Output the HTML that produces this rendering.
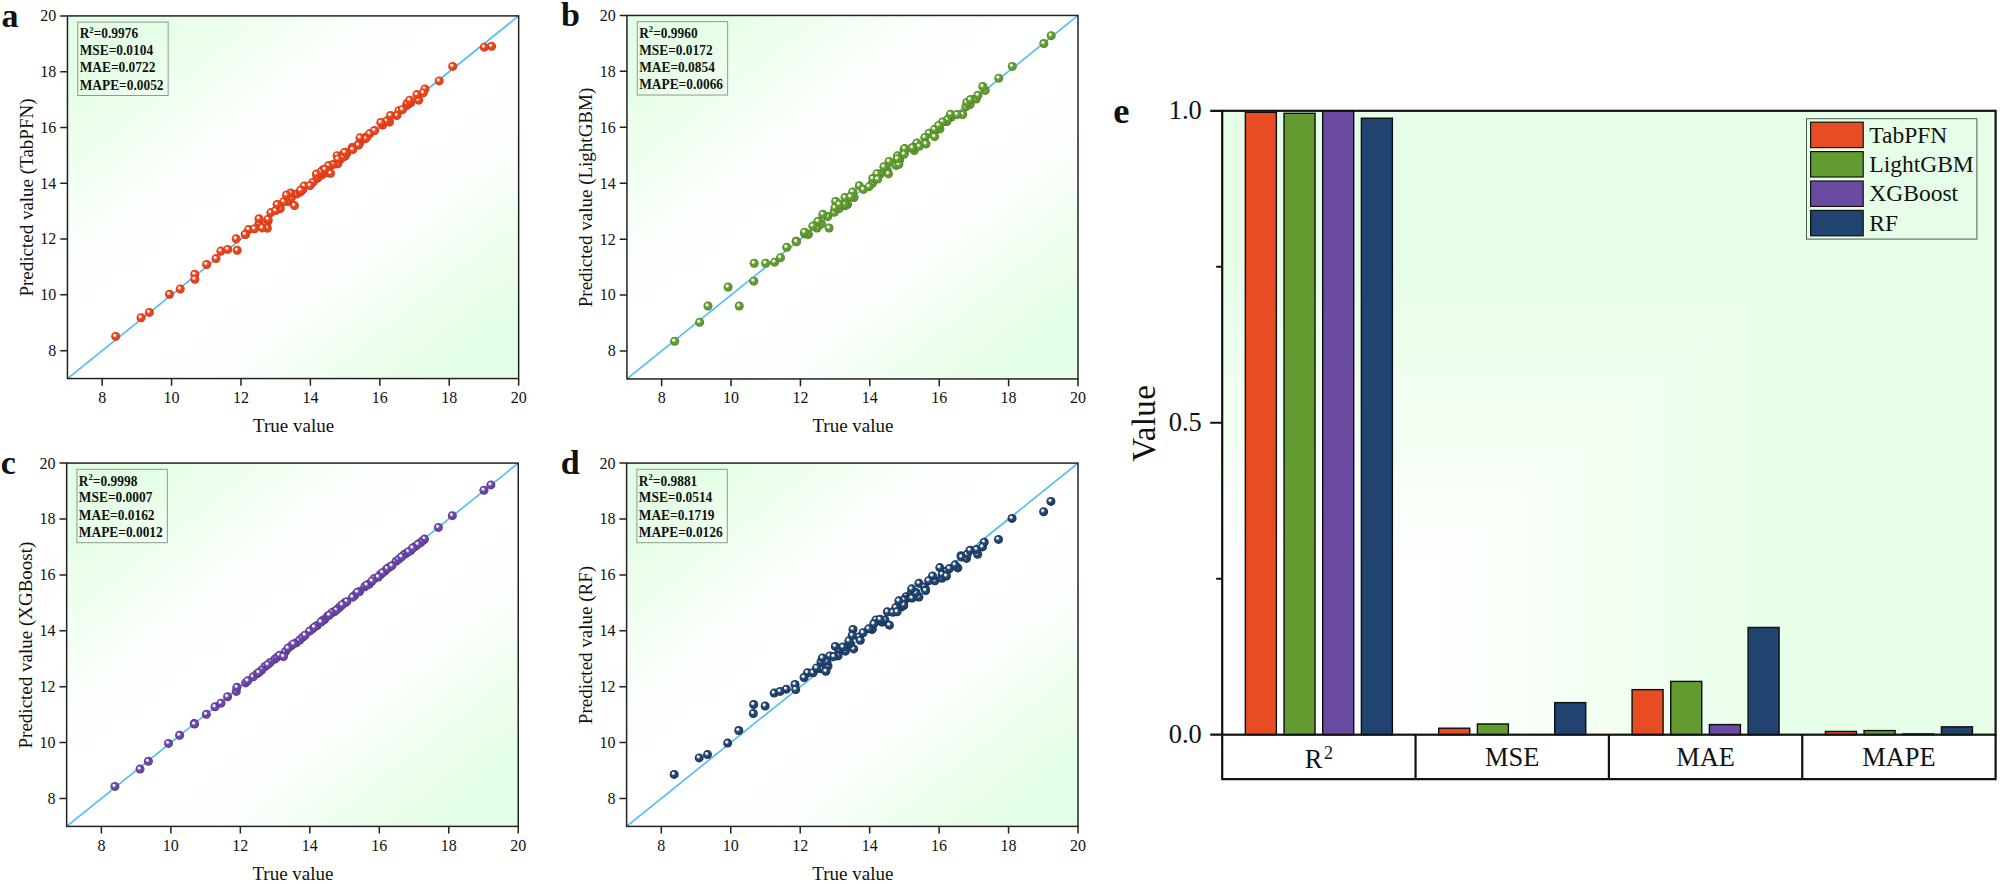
<!DOCTYPE html>
<html lang="en"><head><meta charset="utf-8"><title>Model comparison</title>
<style>html,body{margin:0;padding:0;background:#fff;}body{width:2000px;height:884px;overflow:hidden;}svg{display:block;}text{font-family:'Liberation Serif', serif;fill:#111;}.tk{font-size:16px;}.ax{font-size:19px;}.pl{font-size:34px;font-weight:bold;}.st{font-size:13.9px;font-weight:bold;}.tk2{font-size:26.4px;}.lg{font-size:23.5px;}</style></head><body>
<svg width="2000" height="884" viewBox="0 0 2000 884" role="img" aria-label="Predicted versus true value scatter plots for four models and a grouped bar chart of their metrics">
<defs>
<linearGradient id="bg" x1="0" y1="0" x2="1" y2="1"><stop offset="0" stop-color="#e5fee6"/><stop offset="0.10" stop-color="#e5fee6"/><stop offset="0.355" stop-color="#fdfffd"/><stop offset="0.5" stop-color="#ffffff"/><stop offset="0.645" stop-color="#fdfffd"/><stop offset="0.90" stop-color="#e5fee6"/><stop offset="1" stop-color="#e5fee6"/></linearGradient>
<linearGradient id="bgeh" x1="0" y1="0" x2="1" y2="0"><stop offset="0" stop-color="#ffffff"/><stop offset="0.26" stop-color="#ffffff"/><stop offset="0.50" stop-color="#f3fff3"/><stop offset="0.76" stop-color="#e6fee7"/><stop offset="1" stop-color="#e6fee7"/></linearGradient>
<linearGradient id="bgev" x1="0" y1="1" x2="0" y2="0"><stop offset="0" stop-color="#ffffff"/><stop offset="0.26" stop-color="#ffffff"/><stop offset="0.50" stop-color="#f3fff3"/><stop offset="0.76" stop-color="#e6fee7"/><stop offset="1" stop-color="#e6fee7"/></linearGradient>
<radialGradient id="ga" cx="0.5" cy="0.5" r="0.5" fx="0.34" fy="0.32"><stop offset="0" stop-color="#ffffff"/><stop offset="0.12" stop-color="#ffffff"/><stop offset="0.24" stop-color="#ffd9cc"/><stop offset="0.48" stop-color="#e8431c"/><stop offset="0.82" stop-color="#e8431c"/><stop offset="1" stop-color="#c9300f"/></radialGradient>
<radialGradient id="gb" cx="0.5" cy="0.5" r="0.5" fx="0.34" fy="0.32"><stop offset="0" stop-color="#ffffff"/><stop offset="0.12" stop-color="#ffffff"/><stop offset="0.24" stop-color="#e4f5d2"/><stop offset="0.48" stop-color="#5f9b2e"/><stop offset="0.82" stop-color="#5f9b2e"/><stop offset="1" stop-color="#457a1c"/></radialGradient>
<radialGradient id="gc" cx="0.5" cy="0.5" r="0.5" fx="0.34" fy="0.32"><stop offset="0" stop-color="#ffffff"/><stop offset="0.12" stop-color="#ffffff"/><stop offset="0.24" stop-color="#e4d8f7"/><stop offset="0.48" stop-color="#6a45a6"/><stop offset="0.82" stop-color="#6a45a6"/><stop offset="1" stop-color="#4b2c85"/></radialGradient>
<radialGradient id="gd" cx="0.5" cy="0.5" r="0.5" fx="0.34" fy="0.32"><stop offset="0" stop-color="#ffffff"/><stop offset="0.12" stop-color="#ffffff"/><stop offset="0.24" stop-color="#d5e2f2"/><stop offset="0.48" stop-color="#20426c"/><stop offset="0.82" stop-color="#20426c"/><stop offset="1" stop-color="#122a4c"/></radialGradient>
</defs>
<rect width="2000" height="884" fill="#fff"/>
<g id="panel-a">
<rect x="67.45" y="15.9" width="451.2" height="362.65" fill="url(#bg)"/>
<line x1="67.45" y1="378.55" x2="518.65" y2="15.9" stroke="#4cbcf5" stroke-width="1.6"/>
<g fill="url(#ga)">
<circle cx="408.63" cy="103.78" r="4.5"/>
<circle cx="359.69" cy="143.33" r="4.5"/>
<circle cx="317.35" cy="178.3" r="4.5"/>
<circle cx="346.85" cy="153.07" r="4.5"/>
<circle cx="296.52" cy="194.04" r="4.5"/>
<circle cx="321.16" cy="175.36" r="4.5"/>
<circle cx="322.9" cy="169.84" r="4.5"/>
<circle cx="406.54" cy="105.51" r="4.5"/>
<circle cx="345.11" cy="156.15" r="4.5"/>
<circle cx="340.25" cy="159.42" r="4.5"/>
<circle cx="302.77" cy="189.73" r="4.5"/>
<circle cx="279.86" cy="207.91" r="4.5"/>
<circle cx="268.06" cy="221.12" r="4.5"/>
<circle cx="299.99" cy="192.32" r="4.5"/>
<circle cx="398.91" cy="110.73" r="4.5"/>
<circle cx="324.98" cy="173.19" r="4.5"/>
<circle cx="410.71" cy="102.75" r="4.5"/>
<circle cx="366.98" cy="136.48" r="4.5"/>
<circle cx="259.04" cy="223.37" r="4.5"/>
<circle cx="329.49" cy="165.85" r="4.5"/>
<circle cx="389.54" cy="122.05" r="4.5"/>
<circle cx="288.19" cy="201.62" r="4.5"/>
<circle cx="169.49" cy="294.3" r="4.5"/>
<circle cx="237.17" cy="250.23" r="4.5"/>
<circle cx="248.62" cy="229.58" r="4.5"/>
<circle cx="382.6" cy="124.97" r="4.5"/>
<circle cx="216" cy="258.6" r="4.5"/>
<circle cx="418.69" cy="100.15" r="4.5"/>
<circle cx="396.83" cy="115.49" r="4.5"/>
<circle cx="407.24" cy="103.21" r="4.5"/>
<circle cx="294.44" cy="205.59" r="4.5"/>
<circle cx="304.16" cy="186.07" r="4.5"/>
<circle cx="337.82" cy="163.75" r="4.5"/>
<circle cx="291.31" cy="197.78" r="4.5"/>
<circle cx="317" cy="177.98" r="4.5"/>
<circle cx="220.86" cy="251.06" r="4.5"/>
<circle cx="259.04" cy="218.71" r="4.5"/>
<circle cx="424.94" cy="88.99" r="4.5"/>
<circle cx="180.25" cy="289" r="4.5"/>
<circle cx="267.37" cy="228.19" r="4.5"/>
<circle cx="369.75" cy="133.62" r="4.5"/>
<circle cx="312.83" cy="182.44" r="4.5"/>
<circle cx="320.82" cy="172.12" r="4.5"/>
<circle cx="423.2" cy="92.89" r="4.5"/>
<circle cx="310.06" cy="185.51" r="4.5"/>
<circle cx="358.3" cy="144.78" r="4.5"/>
<circle cx="149.36" cy="312.44" r="4.5"/>
<circle cx="227.8" cy="249.39" r="4.5"/>
<circle cx="268.06" cy="219.26" r="4.5"/>
<circle cx="374.61" cy="130.55" r="4.5"/>
<circle cx="332.96" cy="164.59" r="4.5"/>
<circle cx="316.3" cy="174.07" r="4.5"/>
<circle cx="365.59" cy="138.64" r="4.5"/>
<circle cx="330.53" cy="173.23" r="4.5"/>
<circle cx="344.07" cy="153.15" r="4.5"/>
<circle cx="358.3" cy="145.06" r="4.5"/>
<circle cx="206.63" cy="264.45" r="4.5"/>
<circle cx="352.05" cy="147.57" r="4.5"/>
<circle cx="491.58" cy="46.31" r="4.5"/>
<circle cx="328.45" cy="165.7" r="4.5"/>
<circle cx="115.69" cy="336.43" r="4.5"/>
<circle cx="337.13" cy="155.66" r="4.5"/>
<circle cx="245.5" cy="234.61" r="4.5"/>
<circle cx="270.84" cy="212.57" r="4.5"/>
<circle cx="416.96" cy="94.57" r="4.5"/>
<circle cx="409.67" cy="100.15" r="4.5"/>
<circle cx="402.38" cy="109.63" r="4.5"/>
<circle cx="194.83" cy="274.22" r="4.5"/>
<circle cx="245.15" cy="234.33" r="4.5"/>
<circle cx="194.83" cy="279.24" r="4.5"/>
<circle cx="280.21" cy="208.66" r="4.5"/>
<circle cx="439.17" cy="80.9" r="4.5"/>
<circle cx="386.41" cy="121.07" r="4.5"/>
<circle cx="352.75" cy="148.13" r="4.5"/>
<circle cx="275.7" cy="210.62" r="4.5"/>
<circle cx="324.98" cy="169.33" r="4.5"/>
<circle cx="342.68" cy="157.05" r="4.5"/>
<circle cx="236.13" cy="238.79" r="4.5"/>
<circle cx="254.52" cy="228.75" r="4.5"/>
<circle cx="360.04" cy="137.81" r="4.5"/>
<circle cx="262.16" cy="227.91" r="4.5"/>
<circle cx="484.29" cy="47.14" r="4.5"/>
<circle cx="390.58" cy="115.49" r="4.5"/>
<circle cx="141.03" cy="317.74" r="4.5"/>
<circle cx="352.75" cy="149.52" r="4.5"/>
<circle cx="344.76" cy="152.31" r="4.5"/>
<circle cx="380.86" cy="122.46" r="4.5"/>
<circle cx="283.68" cy="201.69" r="4.5"/>
<circle cx="290.62" cy="193.04" r="4.5"/>
<circle cx="452.71" cy="66.39" r="4.5"/>
<circle cx="300.69" cy="190.25" r="4.5"/>
<circle cx="277.08" cy="204.48" r="4.5"/>
<circle cx="286.46" cy="194.99" r="4.5"/>
<circle cx="337.82" cy="159.01" r="4.5"/>
</g>
<rect x="67.45" y="15.9" width="451.2" height="362.65" fill="none" stroke="#222" stroke-width="1.5"/>
<path d="M102.16 378.55v7.2M67.45 350.65h-7.2M171.57 378.55v7.2M67.45 294.86h-7.2M240.99 378.55v7.2M67.45 239.07h-7.2M310.4 378.55v7.2M67.45 183.28h-7.2M379.82 378.55v7.2M67.45 127.48h-7.2M449.23 378.55v7.2M67.45 71.69h-7.2M518.65 378.55v7.2M67.45 15.9h-7.2" stroke="#222" stroke-width="1.5" fill="none"/>
<text class="tk" x="102.16" y="402.65" text-anchor="middle">8</text>
<text class="tk" x="56.25" y="356.05" text-anchor="end">8</text>
<text class="tk" x="171.57" y="402.65" text-anchor="middle">10</text>
<text class="tk" x="56.25" y="300.26" text-anchor="end">10</text>
<text class="tk" x="240.99" y="402.65" text-anchor="middle">12</text>
<text class="tk" x="56.25" y="244.47" text-anchor="end">12</text>
<text class="tk" x="310.4" y="402.65" text-anchor="middle">14</text>
<text class="tk" x="56.25" y="188.68" text-anchor="end">14</text>
<text class="tk" x="379.82" y="402.65" text-anchor="middle">16</text>
<text class="tk" x="56.25" y="132.88" text-anchor="end">16</text>
<text class="tk" x="449.23" y="402.65" text-anchor="middle">18</text>
<text class="tk" x="56.25" y="77.09" text-anchor="end">18</text>
<text class="tk" x="518.65" y="402.65" text-anchor="middle">20</text>
<text class="tk" x="56.25" y="21.3" text-anchor="end">20</text>
<text class="ax" x="293.55" y="432.05" text-anchor="middle">True value</text>
<text class="ax" transform="translate(32.85 197.53) rotate(-90)" text-anchor="middle">Predicted value (TabPFN)</text>
<text class="pl" x="1.55" y="26.5">a</text>
<rect x="77.75" y="22.1" width="90.4" height="73.4" fill="none" stroke="#8b9c8b" stroke-width="1"/>
<g transform="translate(79.65 37.6) scale(0.965 1)">
<text class="st" x="0" y="0.8">R<tspan dy="-5.8" font-size="9px">2</tspan><tspan dy="5.8">=0.9976</tspan></text>
<text class="st" x="0" y="17.4">MSE=0.0104</text>
<text class="st" x="0" y="34.8">MAE=0.0722</text>
<text class="st" x="0" y="52.2">MAPE=0.0052</text>
</g>
</g>
<g id="panel-b">
<rect x="626.95" y="15.45" width="451.05" height="363.5" fill="url(#bg)"/>
<line x1="626.95" y1="378.95" x2="1078" y2="15.45" stroke="#4cbcf5" stroke-width="1.6"/>
<g fill="url(#gb)">
<circle cx="939.91" cy="128.92" r="4.5"/>
<circle cx="887.17" cy="170.13" r="4.5"/>
<circle cx="972.18" cy="99.44" r="4.5"/>
<circle cx="839.29" cy="208.62" r="4.5"/>
<circle cx="818.47" cy="225.86" r="4.5"/>
<circle cx="965.93" cy="106.84" r="4.5"/>
<circle cx="970.09" cy="104.55" r="4.5"/>
<circle cx="876.76" cy="177.79" r="4.5"/>
<circle cx="897.58" cy="162.5" r="4.5"/>
<circle cx="834.43" cy="211.23" r="4.5"/>
<circle cx="847.62" cy="204.41" r="4.5"/>
<circle cx="951.36" cy="117.05" r="4.5"/>
<circle cx="899.66" cy="160.07" r="4.5"/>
<circle cx="845.19" cy="205.79" r="4.5"/>
<circle cx="912.15" cy="148.09" r="4.5"/>
<circle cx="946.85" cy="121.53" r="4.5"/>
<circle cx="914.23" cy="150.55" r="4.5"/>
<circle cx="934.01" cy="132.71" r="4.5"/>
<circle cx="816.95" cy="228.01" r="4.5"/>
<circle cx="888.42" cy="173.77" r="4.5"/>
<circle cx="796.13" cy="241.16" r="4.5"/>
<circle cx="916.87" cy="144.41" r="4.5"/>
<circle cx="674.69" cy="341.26" r="4.5"/>
<circle cx="976.2" cy="99.11" r="4.5"/>
<circle cx="904.03" cy="149.44" r="4.5"/>
<circle cx="947.4" cy="119.8" r="4.5"/>
<circle cx="889.11" cy="161.47" r="4.5"/>
<circle cx="872.46" cy="183.28" r="4.5"/>
<circle cx="916.87" cy="143.01" r="4.5"/>
<circle cx="950.53" cy="114.21" r="4.5"/>
<circle cx="929.01" cy="133.22" r="4.5"/>
<circle cx="1012.29" cy="66.4" r="4.5"/>
<circle cx="808.27" cy="234.44" r="4.5"/>
<circle cx="739.23" cy="306.03" r="4.5"/>
<circle cx="859.28" cy="185.79" r="4.5"/>
<circle cx="880.44" cy="173.77" r="4.5"/>
<circle cx="962.67" cy="114.49" r="4.5"/>
<circle cx="924.85" cy="137.42" r="4.5"/>
<circle cx="977.94" cy="95.2" r="4.5"/>
<circle cx="904.03" cy="153.36" r="4.5"/>
<circle cx="913.05" cy="147.76" r="4.5"/>
<circle cx="765.6" cy="263.25" r="4.5"/>
<circle cx="728.12" cy="287.01" r="4.5"/>
<circle cx="708" cy="306.03" r="4.5"/>
<circle cx="863.44" cy="189.43" r="4.5"/>
<circle cx="966.83" cy="102.47" r="4.5"/>
<circle cx="957.12" cy="114.49" r="4.5"/>
<circle cx="970.3" cy="99.67" r="4.5"/>
<circle cx="904.73" cy="148.6" r="4.5"/>
<circle cx="834.29" cy="212.36" r="4.5"/>
<circle cx="872.81" cy="178.52" r="4.5"/>
<circle cx="844.36" cy="204.25" r="4.5"/>
<circle cx="985.22" cy="90.44" r="4.5"/>
<circle cx="868.99" cy="186.63" r="4.5"/>
<circle cx="896.05" cy="165.38" r="4.5"/>
<circle cx="699.67" cy="322.24" r="4.5"/>
<circle cx="827.7" cy="216.55" r="4.5"/>
<circle cx="753.8" cy="281.14" r="4.5"/>
<circle cx="821.46" cy="223.82" r="4.5"/>
<circle cx="822.84" cy="214.31" r="4.5"/>
<circle cx="804.8" cy="233.89" r="4.5"/>
<circle cx="835.68" cy="201.45" r="4.5"/>
<circle cx="829.09" cy="228.01" r="4.5"/>
<circle cx="934.57" cy="129.31" r="4.5"/>
<circle cx="852.68" cy="191.94" r="4.5"/>
<circle cx="942.55" cy="122.04" r="4.5"/>
<circle cx="898.83" cy="164.26" r="4.5"/>
<circle cx="925.89" cy="143.85" r="4.5"/>
<circle cx="904.03" cy="154.2" r="4.5"/>
<circle cx="883.91" cy="166.78" r="4.5"/>
<circle cx="786.76" cy="247.31" r="4.5"/>
<circle cx="854.07" cy="197.54" r="4.5"/>
<circle cx="834.99" cy="207.6" r="4.5"/>
<circle cx="754.15" cy="263.25" r="4.5"/>
<circle cx="897.44" cy="155.87" r="4.5"/>
<circle cx="796.48" cy="241.71" r="4.5"/>
<circle cx="845.05" cy="197.54" r="4.5"/>
<circle cx="774.62" cy="262.13" r="4.5"/>
<circle cx="925.89" cy="143.85" r="4.5"/>
<circle cx="807.93" cy="234.17" r="4.5"/>
<circle cx="938.73" cy="125.39" r="4.5"/>
<circle cx="897.44" cy="158.67" r="4.5"/>
<circle cx="817.99" cy="221.3" r="4.5"/>
<circle cx="919.3" cy="146.37" r="4.5"/>
<circle cx="876.97" cy="173.77" r="4.5"/>
<circle cx="839.15" cy="204.25" r="4.5"/>
<circle cx="934.57" cy="136.58" r="4.5"/>
<circle cx="1043.86" cy="43.47" r="4.5"/>
<circle cx="850.6" cy="196.7" r="4.5"/>
<circle cx="780.52" cy="257.65" r="4.5"/>
<circle cx="877.66" cy="179.08" r="4.5"/>
<circle cx="998.75" cy="78.14" r="4.5"/>
<circle cx="912.36" cy="147.76" r="4.5"/>
<circle cx="804.46" cy="232.21" r="4.5"/>
<circle cx="1051.15" cy="35.64" r="4.5"/>
<circle cx="812.78" cy="226.06" r="4.5"/>
<circle cx="982.79" cy="86.53" r="4.5"/>
</g>
<rect x="626.95" y="15.45" width="451.05" height="363.5" fill="none" stroke="#222" stroke-width="1.5"/>
<path d="M661.65 378.95v7.2M626.95 350.99h-7.2M731.04 378.95v7.2M626.95 295.07h-7.2M800.43 378.95v7.2M626.95 239.14h-7.2M869.82 378.95v7.2M626.95 183.22h-7.2M939.22 378.95v7.2M626.95 127.3h-7.2M1008.61 378.95v7.2M626.95 71.37h-7.2M1078 378.95v7.2M626.95 15.45h-7.2" stroke="#222" stroke-width="1.5" fill="none"/>
<text class="tk" x="661.65" y="403.05" text-anchor="middle">8</text>
<text class="tk" x="615.75" y="356.39" text-anchor="end">8</text>
<text class="tk" x="731.04" y="403.05" text-anchor="middle">10</text>
<text class="tk" x="615.75" y="300.47" text-anchor="end">10</text>
<text class="tk" x="800.43" y="403.05" text-anchor="middle">12</text>
<text class="tk" x="615.75" y="244.54" text-anchor="end">12</text>
<text class="tk" x="869.82" y="403.05" text-anchor="middle">14</text>
<text class="tk" x="615.75" y="188.62" text-anchor="end">14</text>
<text class="tk" x="939.22" y="403.05" text-anchor="middle">16</text>
<text class="tk" x="615.75" y="132.7" text-anchor="end">16</text>
<text class="tk" x="1008.61" y="403.05" text-anchor="middle">18</text>
<text class="tk" x="615.75" y="76.77" text-anchor="end">18</text>
<text class="tk" x="1078" y="403.05" text-anchor="middle">20</text>
<text class="tk" x="615.75" y="20.85" text-anchor="end">20</text>
<text class="ax" x="852.98" y="432.45" text-anchor="middle">True value</text>
<text class="ax" transform="translate(592.35 197.5) rotate(-90)" text-anchor="middle">Predicted value (LightGBM)</text>
<text class="pl" x="561.05" y="26.05">b</text>
<rect x="637.25" y="21.65" width="90.4" height="73.4" fill="none" stroke="#8b9c8b" stroke-width="1"/>
<g transform="translate(639.15 37.15) scale(0.965 1)">
<text class="st" x="0" y="0.8">R<tspan dy="-5.8" font-size="9px">2</tspan><tspan dy="5.8">=0.9960</tspan></text>
<text class="st" x="0" y="17.4">MSE=0.0172</text>
<text class="st" x="0" y="34.8">MAE=0.0854</text>
<text class="st" x="0" y="52.2">MAPE=0.0066</text>
</g>
</g>
<g id="panel-c">
<rect x="66.65" y="463.1" width="451.6" height="363.3" fill="url(#bg)"/>
<line x1="66.65" y1="826.4" x2="518.25" y2="463.1" stroke="#4cbcf5" stroke-width="1.6"/>
<g fill="url(#gc)">
<circle cx="296.34" cy="642.81" r="4.5"/>
<circle cx="406.46" cy="553.18" r="4.5"/>
<circle cx="404.03" cy="554.6" r="4.5"/>
<circle cx="384.92" cy="571.1" r="4.5"/>
<circle cx="274.8" cy="659.16" r="4.5"/>
<circle cx="265.08" cy="666.55" r="4.5"/>
<circle cx="312.67" cy="628.84" r="4.5"/>
<circle cx="309.54" cy="631.18" r="4.5"/>
<circle cx="396.04" cy="561.33" r="4.5"/>
<circle cx="245.62" cy="682.89" r="4.5"/>
<circle cx="398.82" cy="559.18" r="4.5"/>
<circle cx="380.41" cy="574.49" r="4.5"/>
<circle cx="354.7" cy="595.27" r="4.5"/>
<circle cx="389.44" cy="567.09" r="4.5"/>
<circle cx="423.14" cy="540.44" r="4.5"/>
<circle cx="334.55" cy="611.53" r="4.5"/>
<circle cx="382.49" cy="572.7" r="4.5"/>
<circle cx="359.56" cy="591.5" r="4.5"/>
<circle cx="327.61" cy="615.94" r="4.5"/>
<circle cx="424.53" cy="539.1" r="4.5"/>
<circle cx="317.18" cy="625.51" r="4.5"/>
<circle cx="338.03" cy="608.59" r="4.5"/>
<circle cx="324.83" cy="619.37" r="4.5"/>
<circle cx="352.62" cy="597.16" r="4.5"/>
<circle cx="420.7" cy="542.54" r="4.5"/>
<circle cx="344.97" cy="602.71" r="4.5"/>
<circle cx="299.81" cy="640.04" r="4.5"/>
<circle cx="285.57" cy="651.46" r="4.5"/>
<circle cx="291.13" cy="645.89" r="4.5"/>
<circle cx="261.6" cy="670.01" r="4.5"/>
<circle cx="253.27" cy="676.72" r="4.5"/>
<circle cx="401.6" cy="556.8" r="4.5"/>
<circle cx="340.11" cy="606.8" r="4.5"/>
<circle cx="322.74" cy="620.52" r="4.5"/>
<circle cx="293.56" cy="643.94" r="4.5"/>
<circle cx="270.29" cy="662.39" r="4.5"/>
<circle cx="387.36" cy="568.49" r="4.5"/>
<circle cx="288" cy="648.23" r="4.5"/>
<circle cx="410.63" cy="550.67" r="4.5"/>
<circle cx="336.29" cy="610.19" r="4.5"/>
<circle cx="267.86" cy="664.66" r="4.5"/>
<circle cx="357.48" cy="592.16" r="4.5"/>
<circle cx="277.23" cy="657.13" r="4.5"/>
<circle cx="408.55" cy="551.63" r="4.5"/>
<circle cx="331.77" cy="612.85" r="4.5"/>
<circle cx="247.71" cy="680.82" r="4.5"/>
<circle cx="314.4" cy="627.16" r="4.5"/>
<circle cx="415.15" cy="546.69" r="4.5"/>
<circle cx="321.01" cy="621.96" r="4.5"/>
<circle cx="374.5" cy="578.42" r="4.5"/>
<circle cx="302.59" cy="637.37" r="4.5"/>
<circle cx="329.34" cy="615.13" r="4.5"/>
<circle cx="391.87" cy="565.84" r="4.5"/>
<circle cx="369.29" cy="584.02" r="4.5"/>
<circle cx="346.71" cy="601.66" r="4.5"/>
<circle cx="364.78" cy="586.78" r="4.5"/>
<circle cx="305.03" cy="635.2" r="4.5"/>
<circle cx="417.93" cy="544.37" r="4.5"/>
<circle cx="378.32" cy="577.02" r="4.5"/>
<circle cx="257.09" cy="673.69" r="4.5"/>
<circle cx="258.82" cy="672.61" r="4.5"/>
<circle cx="366.86" cy="585.01" r="4.5"/>
<circle cx="372.07" cy="581.01" r="4.5"/>
<circle cx="412.71" cy="548.03" r="4.5"/>
<circle cx="342.2" cy="604.75" r="4.5"/>
<circle cx="279.67" cy="655.28" r="4.5"/>
<circle cx="114.9" cy="786.44" r="4.5"/>
<circle cx="140.02" cy="769.11" r="4.5"/>
<circle cx="148.35" cy="761.29" r="4.5"/>
<circle cx="168.5" cy="743.4" r="4.5"/>
<circle cx="179.62" cy="735.3" r="4.5"/>
<circle cx="194.21" cy="723.56" r="4.5"/>
<circle cx="194.56" cy="724.12" r="4.5"/>
<circle cx="206.37" cy="714.34" r="4.5"/>
<circle cx="215.05" cy="706.79" r="4.5"/>
<circle cx="220.96" cy="703.16" r="4.5"/>
<circle cx="227.56" cy="696.73" r="4.5"/>
<circle cx="236.24" cy="691.42" r="4.5"/>
<circle cx="236.94" cy="687.23" r="4.5"/>
<circle cx="438.42" cy="527.38" r="4.5"/>
<circle cx="452.32" cy="515.64" r="4.5"/>
<circle cx="483.93" cy="490.21" r="4.5"/>
<circle cx="490.88" cy="484.9" r="4.5"/>
<circle cx="283.49" cy="656.49" r="4.5"/>
</g>
<rect x="66.65" y="463.1" width="451.6" height="363.3" fill="none" stroke="#222" stroke-width="1.5"/>
<path d="M101.39 826.4v7.2M66.65 798.45h-7.2M170.87 826.4v7.2M66.65 742.56h-7.2M240.34 826.4v7.2M66.65 686.67h-7.2M309.82 826.4v7.2M66.65 630.78h-7.2M379.3 826.4v7.2M66.65 574.88h-7.2M448.77 826.4v7.2M66.65 518.99h-7.2M518.25 826.4v7.2M66.65 463.1h-7.2" stroke="#222" stroke-width="1.5" fill="none"/>
<text class="tk" x="101.39" y="850.5" text-anchor="middle">8</text>
<text class="tk" x="55.45" y="803.85" text-anchor="end">8</text>
<text class="tk" x="170.87" y="850.5" text-anchor="middle">10</text>
<text class="tk" x="55.45" y="747.96" text-anchor="end">10</text>
<text class="tk" x="240.34" y="850.5" text-anchor="middle">12</text>
<text class="tk" x="55.45" y="692.07" text-anchor="end">12</text>
<text class="tk" x="309.82" y="850.5" text-anchor="middle">14</text>
<text class="tk" x="55.45" y="636.18" text-anchor="end">14</text>
<text class="tk" x="379.3" y="850.5" text-anchor="middle">16</text>
<text class="tk" x="55.45" y="580.28" text-anchor="end">16</text>
<text class="tk" x="448.77" y="850.5" text-anchor="middle">18</text>
<text class="tk" x="55.45" y="524.39" text-anchor="end">18</text>
<text class="tk" x="518.25" y="850.5" text-anchor="middle">20</text>
<text class="tk" x="55.45" y="468.5" text-anchor="end">20</text>
<text class="ax" x="292.95" y="879.9" text-anchor="middle">True value</text>
<text class="ax" transform="translate(32.05 645.05) rotate(-90)" text-anchor="middle">Predicted value (XGBoost)</text>
<text class="pl" x="0.75" y="473.7">c</text>
<rect x="76.95" y="469.3" width="90.4" height="73.4" fill="none" stroke="#8b9c8b" stroke-width="1"/>
<g transform="translate(78.85 484.8) scale(0.965 1)">
<text class="st" x="0" y="0.8">R<tspan dy="-5.8" font-size="9px">2</tspan><tspan dy="5.8">=0.9998</tspan></text>
<text class="st" x="0" y="17.4">MSE=0.0007</text>
<text class="st" x="0" y="34.8">MAE=0.0162</text>
<text class="st" x="0" y="52.2">MAPE=0.0012</text>
</g>
</g>
<g id="panel-d">
<rect x="626.6" y="463.1" width="451.4" height="363.3" fill="url(#bg)"/>
<line x1="626.6" y1="826.4" x2="1078" y2="463.1" stroke="#4cbcf5" stroke-width="1.6"/>
<g fill="url(#gd)">
<circle cx="941.89" cy="578.32" r="4.5"/>
<circle cx="882.16" cy="622.18" r="4.5"/>
<circle cx="914.11" cy="594.43" r="4.5"/>
<circle cx="872.09" cy="629.19" r="4.5"/>
<circle cx="850.56" cy="645.38" r="4.5"/>
<circle cx="880.43" cy="620.99" r="4.5"/>
<circle cx="897.44" cy="607.81" r="4.5"/>
<circle cx="960.98" cy="555.65" r="4.5"/>
<circle cx="821.05" cy="668.87" r="4.5"/>
<circle cx="901.61" cy="606.9" r="4.5"/>
<circle cx="906.12" cy="596.79" r="4.5"/>
<circle cx="946.75" cy="570.97" r="4.5"/>
<circle cx="887.37" cy="611.77" r="4.5"/>
<circle cx="727.64" cy="743.12" r="4.5"/>
<circle cx="845.36" cy="651.18" r="4.5"/>
<circle cx="807.51" cy="672.7" r="4.5"/>
<circle cx="942.23" cy="574.33" r="4.5"/>
<circle cx="934.94" cy="580.75" r="4.5"/>
<circle cx="838.76" cy="649.78" r="4.5"/>
<circle cx="842.92" cy="646.99" r="4.5"/>
<circle cx="853.69" cy="648.94" r="4.5"/>
<circle cx="753.69" cy="704.55" r="4.5"/>
<circle cx="915.84" cy="592.77" r="4.5"/>
<circle cx="774.17" cy="693.1" r="4.5"/>
<circle cx="917.93" cy="596.68" r="4.5"/>
<circle cx="911.33" cy="592.77" r="4.5"/>
<circle cx="875.91" cy="619.88" r="4.5"/>
<circle cx="977.65" cy="554.2" r="4.5"/>
<circle cx="895.7" cy="607.58" r="4.5"/>
<circle cx="957.86" cy="567.9" r="4.5"/>
<circle cx="884.94" cy="619.88" r="4.5"/>
<circle cx="918.97" cy="583.27" r="4.5"/>
<circle cx="889.45" cy="625.19" r="4.5"/>
<circle cx="946.4" cy="576" r="4.5"/>
<circle cx="905.08" cy="599.48" r="4.5"/>
<circle cx="738.76" cy="730.54" r="4.5"/>
<circle cx="903.69" cy="605.63" r="4.5"/>
<circle cx="872.09" cy="629.38" r="4.5"/>
<circle cx="827.99" cy="665.99" r="4.5"/>
<circle cx="961.68" cy="557" r="4.5"/>
<circle cx="924.52" cy="587.18" r="4.5"/>
<circle cx="998.48" cy="539.39" r="4.5"/>
<circle cx="932.51" cy="576" r="4.5"/>
<circle cx="918.97" cy="596.96" r="4.5"/>
<circle cx="903.69" cy="600.04" r="4.5"/>
<circle cx="984.25" cy="542.19" r="4.5"/>
<circle cx="966.54" cy="558.4" r="4.5"/>
<circle cx="835.29" cy="646.43" r="4.5"/>
<circle cx="911.68" cy="597.8" r="4.5"/>
<circle cx="873.83" cy="623.79" r="4.5"/>
<circle cx="903.69" cy="604.79" r="4.5"/>
<circle cx="928.69" cy="580.75" r="4.5"/>
<circle cx="912.02" cy="598.08" r="4.5"/>
<circle cx="892.93" cy="612.33" r="4.5"/>
<circle cx="949.52" cy="568.46" r="4.5"/>
<circle cx="795.01" cy="684.43" r="4.5"/>
<circle cx="880.08" cy="619.32" r="4.5"/>
<circle cx="915.84" cy="592.77" r="4.5"/>
<circle cx="825.91" cy="671.3" r="4.5"/>
<circle cx="850.22" cy="643.63" r="4.5"/>
<circle cx="939.8" cy="567.62" r="4.5"/>
<circle cx="838.06" cy="655.93" r="4.5"/>
<circle cx="976.61" cy="549.45" r="4.5"/>
<circle cx="967.23" cy="554.2" r="4.5"/>
<circle cx="795.7" cy="689.46" r="4.5"/>
<circle cx="829.73" cy="655.93" r="4.5"/>
<circle cx="804.03" cy="677.45" r="4.5"/>
<circle cx="821.05" cy="661.8" r="4.5"/>
<circle cx="1050.92" cy="501.39" r="4.5"/>
<circle cx="707.5" cy="754.58" r="4.5"/>
<circle cx="813.06" cy="672.7" r="4.5"/>
<circle cx="955.08" cy="564.82" r="4.5"/>
<circle cx="858.9" cy="636.93" r="4.5"/>
<circle cx="826.6" cy="661.24" r="4.5"/>
<circle cx="982.51" cy="546.94" r="4.5"/>
<circle cx="897.09" cy="611.77" r="4.5"/>
<circle cx="852.99" cy="629.38" r="4.5"/>
<circle cx="674.17" cy="774.42" r="4.5"/>
<circle cx="1043.62" cy="511.73" r="4.5"/>
<circle cx="860.29" cy="640.28" r="4.5"/>
<circle cx="925.57" cy="589.7" r="4.5"/>
<circle cx="833.9" cy="656.49" r="4.5"/>
<circle cx="1012.03" cy="518.43" r="4.5"/>
<circle cx="753.34" cy="713.5" r="4.5"/>
<circle cx="868.62" cy="628.82" r="4.5"/>
<circle cx="848.83" cy="640.84" r="4.5"/>
<circle cx="863.06" cy="632.73" r="4.5"/>
<circle cx="970.01" cy="550.29" r="4.5"/>
<circle cx="898.83" cy="600.87" r="4.5"/>
<circle cx="786.33" cy="689.18" r="4.5"/>
<circle cx="765.15" cy="705.95" r="4.5"/>
<circle cx="822.44" cy="657.88" r="4.5"/>
<circle cx="925.57" cy="590.53" r="4.5"/>
<circle cx="852.3" cy="635.53" r="4.5"/>
<circle cx="911.68" cy="588.86" r="4.5"/>
<circle cx="780.08" cy="691.42" r="4.5"/>
<circle cx="699.17" cy="757.93" r="4.5"/>
<circle cx="816.54" cy="667.95" r="4.5"/>
</g>
<rect x="626.6" y="463.1" width="451.4" height="363.3" fill="none" stroke="#222" stroke-width="1.5"/>
<path d="M661.32 826.4v7.2M626.6 798.45h-7.2M730.77 826.4v7.2M626.6 742.56h-7.2M800.22 826.4v7.2M626.6 686.67h-7.2M869.66 826.4v7.2M626.6 630.78h-7.2M939.11 826.4v7.2M626.6 574.88h-7.2M1008.55 826.4v7.2M626.6 518.99h-7.2M1078 826.4v7.2M626.6 463.1h-7.2" stroke="#222" stroke-width="1.5" fill="none"/>
<text class="tk" x="661.32" y="850.5" text-anchor="middle">8</text>
<text class="tk" x="615.4" y="803.85" text-anchor="end">8</text>
<text class="tk" x="730.77" y="850.5" text-anchor="middle">10</text>
<text class="tk" x="615.4" y="747.96" text-anchor="end">10</text>
<text class="tk" x="800.22" y="850.5" text-anchor="middle">12</text>
<text class="tk" x="615.4" y="692.07" text-anchor="end">12</text>
<text class="tk" x="869.66" y="850.5" text-anchor="middle">14</text>
<text class="tk" x="615.4" y="636.18" text-anchor="end">14</text>
<text class="tk" x="939.11" y="850.5" text-anchor="middle">16</text>
<text class="tk" x="615.4" y="580.28" text-anchor="end">16</text>
<text class="tk" x="1008.55" y="850.5" text-anchor="middle">18</text>
<text class="tk" x="615.4" y="524.39" text-anchor="end">18</text>
<text class="tk" x="1078" y="850.5" text-anchor="middle">20</text>
<text class="tk" x="615.4" y="468.5" text-anchor="end">20</text>
<text class="ax" x="852.8" y="879.9" text-anchor="middle">True value</text>
<text class="ax" transform="translate(592 645.05) rotate(-90)" text-anchor="middle">Predicted value (RF)</text>
<text class="pl" x="560.7" y="473.7">d</text>
<rect x="636.9" y="469.3" width="90.4" height="73.4" fill="none" stroke="#8b9c8b" stroke-width="1"/>
<g transform="translate(638.8 484.8) scale(0.965 1)">
<text class="st" x="0" y="0.8">R<tspan dy="-5.8" font-size="9px">2</tspan><tspan dy="5.8">=0.9881</tspan></text>
<text class="st" x="0" y="17.4">MSE=0.0514</text>
<text class="st" x="0" y="34.8">MAE=0.1719</text>
<text class="st" x="0" y="52.2">MAPE=0.0126</text>
</g>
</g>
<g id="panel-e">
<rect x="1222.2" y="110.8" width="773.4" height="623.9" fill="url(#bgeh)"/>
<svg x="1222.2" y="110.8" width="773.4" height="623.9" viewBox="0 0 1 1" preserveAspectRatio="none"><path d="M0 0H1L0 1Z" fill="url(#bgev)"/></svg>
<rect x="1245.37" y="112.3" width="31" height="622.4" fill="#e84c22" stroke="#0d0d0d" stroke-width="1.4"/>
<rect x="1284.04" y="113.3" width="31" height="621.4" fill="#649b30" stroke="#0d0d0d" stroke-width="1.4"/>
<rect x="1322.71" y="110.92" width="31" height="623.78" fill="#6b4ba1" stroke="#0d0d0d" stroke-width="1.4"/>
<rect x="1361.38" y="118.22" width="31" height="616.48" fill="#21436f" stroke="#0d0d0d" stroke-width="1.4"/>
<rect x="1438.72" y="728.21" width="31" height="6.49" fill="#e84c22" stroke="#0d0d0d" stroke-width="1.4"/>
<rect x="1477.39" y="723.97" width="31" height="10.73" fill="#649b30" stroke="#0d0d0d" stroke-width="1.4"/>
<rect x="1554.73" y="702.63" width="31" height="32.07" fill="#21436f" stroke="#0d0d0d" stroke-width="1.4"/>
<rect x="1632.07" y="689.65" width="31" height="45.05" fill="#e84c22" stroke="#0d0d0d" stroke-width="1.4"/>
<rect x="1670.74" y="681.42" width="31" height="53.28" fill="#649b30" stroke="#0d0d0d" stroke-width="1.4"/>
<rect x="1709.41" y="724.59" width="31" height="10.11" fill="#6b4ba1" stroke="#0d0d0d" stroke-width="1.4"/>
<rect x="1748.08" y="627.45" width="31" height="107.25" fill="#21436f" stroke="#0d0d0d" stroke-width="1.4"/>
<rect x="1825.42" y="731.46" width="31" height="3.24" fill="#e84c22" stroke="#0d0d0d" stroke-width="1.4"/>
<rect x="1864.09" y="730.58" width="31" height="4.12" fill="#649b30" stroke="#0d0d0d" stroke-width="1.4"/>
<rect x="1902.76" y="733.95" width="31" height="0.75" fill="#6b4ba1" stroke="#0d0d0d" stroke-width="1.4"/>
<rect x="1941.43" y="726.84" width="31" height="7.86" fill="#21436f" stroke="#0d0d0d" stroke-width="1.4"/>
<rect x="1222.2" y="110.8" width="773.4" height="623.9" fill="none" stroke="#111" stroke-width="2.2"/>
<path d="M1222.2 734.7V779.2H1995.6V734.7M1415.55 734.7V779.2M1608.9 734.7V779.2M1802.25 734.7V779.2M1222.2 734.7h-12M1222.2 422.75h-12M1222.2 110.8h-12M1222.2 578.73h-6M1222.2 266.77h-6" stroke="#111" stroke-width="2.2" fill="none"/>
<text class="tk2" x="1201.7" y="743.1" text-anchor="end">0.0</text>
<text class="tk2" x="1201.7" y="431.15" text-anchor="end">0.5</text>
<text class="tk2" x="1201.7" y="119.2" text-anchor="end">1.0</text>
<text transform="translate(1155 423.25) rotate(-90)" text-anchor="middle" font-size="33px" letter-spacing="0.35">Value</text>
<text x="1113.3" y="123.2" font-size="36.5px" font-weight="bold">e</text>
<text class="tk2" x="1318.88" y="768" text-anchor="middle">R<tspan dy="-9" font-size="18px" dx="1.5">2</tspan></text>
<text class="tk2" x="1512.22" y="766" text-anchor="middle">MSE</text>
<text class="tk2" x="1705.57" y="766" text-anchor="middle">MAE</text>
<text class="tk2" x="1898.92" y="766" text-anchor="middle">MAPE</text>
<rect x="1806.5" y="118.7" width="170.4" height="120.4" fill="none" stroke="#4d5d4d" stroke-width="1"/>
<rect x="1810.6" y="122.2" width="52.6" height="25.4" fill="#e84c22" stroke="#111" stroke-width="1.2"/>
<text class="lg" x="1869.3" y="142.7">TabPFN</text>
<rect x="1810.6" y="151.6" width="52.6" height="25.4" fill="#649b30" stroke="#111" stroke-width="1.2"/>
<text class="lg" x="1869.3" y="172">LightGBM</text>
<rect x="1810.6" y="181" width="52.6" height="25.4" fill="#6b4ba1" stroke="#111" stroke-width="1.2"/>
<text class="lg" x="1869.3" y="201.3">XGBoost</text>
<rect x="1810.6" y="210.4" width="52.6" height="25.4" fill="#21436f" stroke="#111" stroke-width="1.2"/>
<text class="lg" x="1869.3" y="230.6">RF</text>
</g>
</svg></body></html>
